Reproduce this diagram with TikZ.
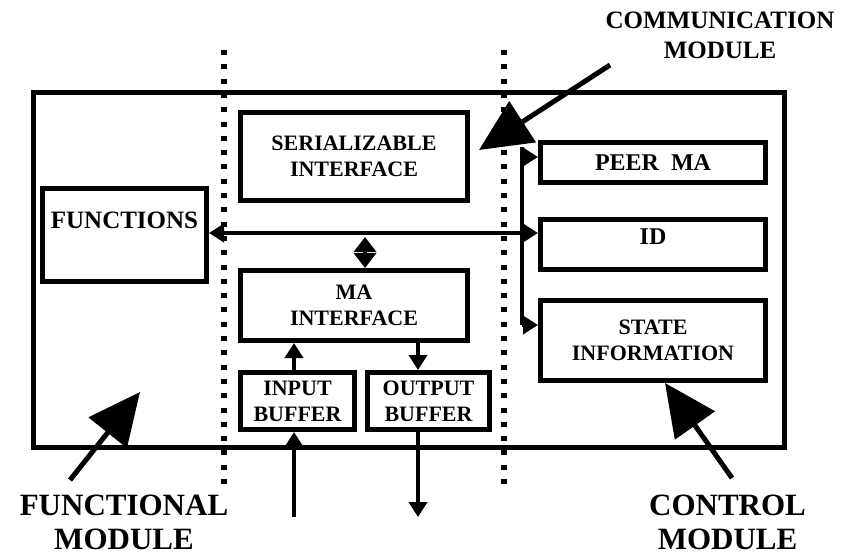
\documentclass[tikz,border=0pt]{standalone}
\usepackage{fontspec}
\setmainfont{Liberation Serif}
\usetikzlibrary{arrows.meta}
\begin{document}
\begin{tikzpicture}[x=1pt,y=-1pt,
  box/.style={draw, line width=5pt, fill=white, inner sep=0pt, align=center,
    font=\bfseries\fontsize{22}{26}\selectfont},
  conn/.style={line width=4.5pt},
  tip/.style={-{Triangle[length=15pt,width=18pt]}},
  dtip/.style={{Triangle[length=15pt,width=18pt]}-{Triangle[length=15pt,width=18pt]}},
  dotline/.style={line width=6pt, dash pattern=on 5pt off 9.3pt},
  big/.style={line width=5pt, -{Triangle[length=52pt,width=48pt]}},
  lbl/.style={align=center, inner sep=0pt, font=\bfseries\fontsize{31}{34}\selectfont}
]
\useasboundingbox (0,0) rectangle (842,555);
\fill[white] (0,0) rectangle (842,555);

% dotted separators
\coordinate (dl1) at (224,50); \coordinate (dl2) at (224,490);
\coordinate (dr1) at (504,50); \coordinate (dr2) at (504,490);
\draw[dotline] (dl1) -- (dl2);
\draw[dotline] (dr1) -- (dr2);

% outer frame
\node[draw, line width=5pt, minimum width=751pt, minimum height=355pt, inner sep=0pt] (outer) at (408.5,270) {};

% boxes
\node[box, minimum width=227pt, minimum height=88pt] (serial) at (354,156.5) {SERIALIZABLE\\INTERFACE};
\node[box, minimum width=164pt, minimum height=93pt, font=\bfseries\fontsize{25}{30}\selectfont, text height=18pt, text depth=31pt] (functions) at (124.5,235) {FUNCTIONS};
\node[box, minimum width=227pt, minimum height=70pt] (ma) at (354,305.5) {MA\\INTERFACE};
\node[box, minimum width=114pt, minimum height=57pt] (inbuf) at (297.5,401) {INPUT\\BUFFER};
\node[box, minimum width=122pt, minimum height=57pt] (outbuf) at (428.5,401) {OUTPUT\\BUFFER};
\node[box, minimum width=225pt, minimum height=40pt, font=\bfseries\fontsize{24}{28}\selectfont] (peer) at (653,162.5) {PEER\ \ MA};
\node[box, minimum width=225pt, minimum height=50pt, font=\bfseries\fontsize{24}{28}\selectfont, text height=16pt, text depth=16pt] (id) at (653,244.5) {ID};
\node[box, minimum width=225pt, minimum height=80pt] (state) at (653,340.5) {STATE\\INFORMATION};

% connectors
\coordinate (hy) at (0,233);
\draw[conn, dtip] (functions.east |- hy) -- (id.west |- hy);

\coordinate (b0) at (522,147);
\coordinate (b1) at (522,157);
\coordinate (b3) at (522,325);
\draw[conn] (b0) -- (b3);
\draw[conn, tip] (b1) -- (b1 -| peer.west);
\draw[conn, tip] (b3) -- (b3 -| state.west);

\coordinate (dtop) at (365,237);
\draw[conn, {Triangle[length=15pt,width=22pt]}-{Triangle[length=15pt,width=22pt]}] (dtop) -- (dtop |- ma.north);

\coordinate (xin) at (294,0);
\coordinate (xout) at (418,0);
\draw[conn, tip] (inbuf.north -| xin) -- (ma.south -| xin);
\draw[conn, tip] (ma.south -| xout) -- (outbuf.north -| xout);

\coordinate (inlow) at (294,517);
\coordinate (outlow) at (418,517);
\draw[conn, tip] (inlow) -- (inlow |- inbuf.south);
\draw[conn, tip] (outbuf.south -| outlow) -- (outlow);

% labels
\node[font=\bfseries\fontsize{25}{30}\selectfont, align=center] (commlbl) at (720,35) {COMMUNICATION\\MODULE};
\node[lbl] (funclbl) at (124,522) {FUNCTIONAL\\MODULE};
\node[lbl] (ctrllbl) at (727.5,522) {CONTROL\\MODULE};

% big pointer arrows
\coordinate (cs) at (610,65);  \coordinate (ct) at (479,150);
\coordinate (fs) at (70,480);  \coordinate (ft) at (140,392);
\coordinate (ks) at (732,478); \coordinate (kt) at (665,383);
\draw[big] (cs) -- (ct);
\draw[big] (fs) -- (ft);
\draw[big] (ks) -- (kt);
\end{tikzpicture}
\end{document}
